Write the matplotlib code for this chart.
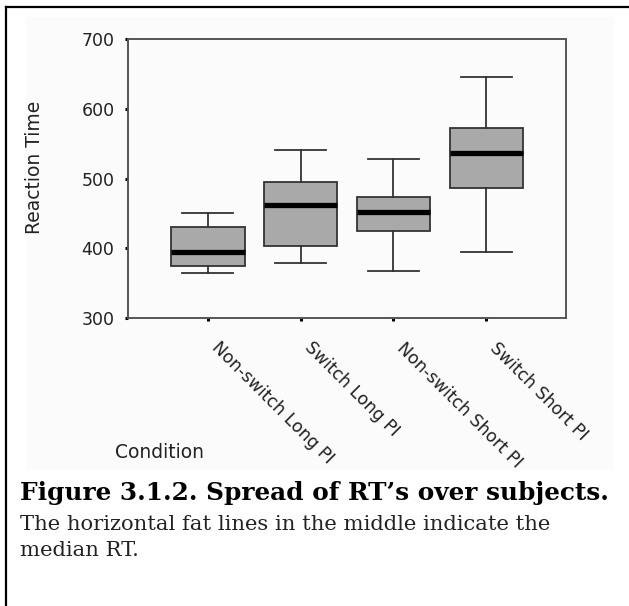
import matplotlib
matplotlib.use("Agg")
import matplotlib.pyplot as plt
import matplotlib.transforms as mtransforms
from matplotlib.patches import Rectangle
from matplotlib.lines import Line2D

categories = ["Non-switch Long PI", "Switch Long PI", "Non-switch Short PI", "Switch Short PI"]
whisk_low = [364, 379, 368, 395]
q1 = [374, 403, 425, 487]
median = [395, 462, 452, 537]
q3 = [430, 495, 474, 572]
whisk_high = [450, 541, 528, 645]
yticks = [300, 400, 500, 600, 700]

W, H = 629, 606
fig = plt.figure(figsize=(W / 100, H / 100), dpi=100)
fig.patch.set_facecolor("white")

# light panel behind chart
fig.add_artist(Rectangle((26 / W, 1 - 470 / H), (614 - 26) / W, (470 - 17) / H,
                         transform=fig.transFigure, facecolor="#fbfbfb", edgecolor="none", zorder=0))
# outer frame lines (top and left)
fig.add_artist(Line2D([6 / W, 1.0], [1 - 7 / H, 1 - 7 / H], transform=fig.transFigure,
                      color="black", lw=1.6, zorder=1))
fig.add_artist(Line2D([6.5 / W, 6.5 / W], [0, 1 - 7 / H], transform=fig.transFigure,
                      color="black", lw=1.6, zorder=1))

ax = fig.add_axes([127.6 / W, 1 - 318 / H, (566 - 127.6) / W, (318 - 39) / H])
ax.set_facecolor("#fbfbfb")

stats = []
for i, c in enumerate(categories):
    stats.append(dict(label=c, whislo=whisk_low[i], q1=q1[i], med=median[i],
                      q3=q3[i], whishi=whisk_high[i], fliers=[]))
positions = list(range(1, len(categories) + 1))
ax.bxp(stats, positions=positions, widths=0.79, patch_artist=True, showfliers=False,
       boxprops=dict(facecolor="#a9a9a9", edgecolor="#333333", linewidth=1.3),
       whiskerprops=dict(color="#333333", linewidth=1.3),
       capprops=dict(color="#333333", linewidth=1.3),
       medianprops=dict(color="black", linewidth=3.8),
       capwidths=0.55)

ax.set_xlim(0.135, 4.86)
ax.set_ylim(300, 700)
ax.set_yticks(yticks)
ax.set_yticklabels([str(v) for v in yticks], fontsize=12.5, color="#222222")
ax.set_xticks(positions)
ax.set_xticklabels(categories, rotation=-45, ha="left", va="baseline",
                   rotation_mode="anchor", fontsize=12.4, color="#222222")
ax.tick_params(axis="both", length=2.5, width=2.2, color="black", direction="out")
ax.tick_params(axis="y", pad=7)
ax.tick_params(axis="x", pad=19.5)
offset = mtransforms.ScaledTranslation(3 / 100, 0, fig.dpi_scale_trans)
for lab in ax.get_xticklabels():
    lab.set_transform(lab.get_transform() + offset)
for s in ax.spines.values():
    s.set_color("#555555")
    s.set_linewidth(1.4)

fig.text(34 / W, 1 - 167 / H, "Reaction Time", rotation=90, ha="center", va="center",
         fontsize=13.5, color="#222222")
fig.text(159 / W, 1 - 453 / H, "Condition", ha="center", va="center",
         fontsize=13.5, color="#222222")

fig.text(20 / W, 1 - 493 / H, "Figure 3.1.2. Spread of RT\u2019s over subjects.",
         family="DejaVu Serif", fontweight="bold", fontsize=17.8, ha="left", va="center",
         color="black")
fig.text(20 / W, 1 - 524 / H, "The horizontal fat lines in the middle indicate the",
         family="DejaVu Serif", fontsize=15.2, ha="left", va="center", color="#222222")
fig.text(20 / W, 1 - 550 / H, "median RT.",
         family="DejaVu Serif", fontsize=15.2, ha="left", va="center", color="#222222")

fig.savefig("out.png", dpi=100, facecolor="white")
